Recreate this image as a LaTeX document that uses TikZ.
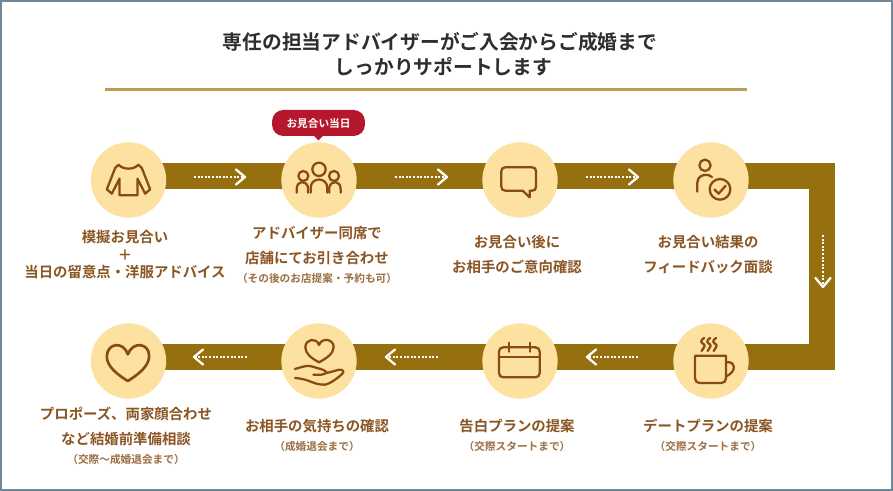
\documentclass[tikz,border=0pt]{standalone}
\usepackage{fontspec}
\usetikzlibrary{calc}
\newfontfamily\jp{Noto Sans CJK JP}[BoldFont={Noto Sans CJK JP Bold}]
\definecolor{bandc}{HTML}{96700F}
\definecolor{bandedge}{HTML}{C6AB66}
\definecolor{circc}{HTML}{FCE1A0}
\definecolor{iconc}{HTML}{8A4A14}
\definecolor{textc}{HTML}{8A5522}
\definecolor{badgec}{HTML}{B5182D}
\definecolor{framec}{HTML}{6F8796}
\definecolor{rulec}{HTML}{BD9C55}
\tikzset{
  stepcirc/.style={circle,fill=circc,minimum size=56.5pt,inner sep=0pt},
  lab/.style={font=\jp\bfseries\fontsize{10.8pt}{12pt}\selectfont,text=textc,inner sep=0pt,text height=8.6pt,text depth=1.2pt,anchor=center},
  sublab/.style={font=\jp\bfseries\fontsize{8pt}{9pt}\selectfont,text=textc!85,inner sep=0pt,text height=6.4pt,text depth=.8pt,anchor=center},
  titlelab/.style={font=\jp\bfseries\fontsize{14.8pt}{16pt}\selectfont,text=black!82,inner sep=0pt,text height=11.8pt,text depth=1.6pt,anchor=center},
  dots/.style={white,line width=1.5pt,dash pattern=on 1.5pt off 1.2pt},
  chev/.style={white,line width=1.7pt,line cap=round,line join=round},
  ic/.style={draw=iconc,line width=1.7pt,line cap=round,line join=round,fill=none},
  icons/.style={x=.25pt,y=-.25pt},
}
\begin{document}
\begin{tikzpicture}[x=.75pt,y=-.75pt]
\useasboundingbox (0,0) rectangle (893,491);
\fill[white] (0,0) rectangle (893,491);
\draw[framec,line width=1.4pt] (1,1) rectangle (892,490);
% title
\node[titlelab] (t1) at (440,43) {専任の担当アドバイザーがご入会からご成婚まで};
\node[titlelab] (t2) at (443.5,68) {しっかりサポートします};
\coordinate (ruleL) at (105,89.5);
\coordinate (ruleR) at (747,89.5);
\draw[rulec,line width=1.7pt] (ruleL) -- (ruleR);
% band
\coordinate (bA) at (128,176);
\coordinate (bB) at (822,176);
\coordinate (bC) at (822,357);
\coordinate (bD) at (128,357);
\draw[bandedge,line width=19.8pt,miter limit=10] (bA) -- (bB) -- (bC) -- (bD);
\draw[bandc,line width=18.8pt,miter limit=10] (bA) -- (bB) -- (bC) -- (bD);
% circles
\node[stepcirc] (c1) at (128.5,180) {};
\node[stepcirc] (c2) at (319,180) {};
\node[stepcirc] (c3) at (520,180) {};
\node[stepcirc] (c4) at (711,180) {};
\node[stepcirc] (c5) at (711,361) {};
\node[stepcirc] (c6) at (520,361) {};
\node[stepcirc] (c7) at (319,361) {};
\node[stepcirc] (c8) at (128.5,361) {};
% dotted arrows
\foreach \nm/\xa/\xb in {a/194/245,b/395/447,c/586/638}{
  \coordinate (\nm s) at (\xa,177);
  \coordinate (\nm e) at (\xb,177);
  \draw[dots] (\nm s) -- (\nm e);
  \draw[chev] ($(\nm e)+(-9,-7.5)$) -- (\nm e) -- ($(\nm e)+(-9,7.5)$);
}
\foreach \nm/\xa/\xb in {d/638/587,e/438/386,f/247/194}{
  \coordinate (\nm s) at (\xa,357);
  \coordinate (\nm e) at (\xb,357);
  \draw[dots] (\nm s) -- (\nm e);
  \draw[chev] ($(\nm e)+(9,-7.5)$) -- (\nm e) -- ($(\nm e)+(9,7.5)$);
}
\coordinate (gs) at (823,235);
\coordinate (ge) at (823,287);
\draw[dots] (gs) -- (ge);
\draw[chev] ($(ge)+(-7.5,-9)$) -- (ge) -- ($(ge)+(7.5,-9)$);
% badge
\node[fill=badgec,rounded corners=8.5pt,minimum width=69.7pt,minimum height=19.5pt,inner sep=0pt,text=white,font=\jp\bfseries\fontsize{8pt}{9pt}\selectfont] (badge) at (318.5,123) {お見合い当日};
\coordinate (tipL) at (313.5,135.5);
\coordinate (tipR) at (323.5,135.5);
\coordinate (tipB) at (318.5,140.5);
\fill[badgec] (tipL) -- (tipB) -- (tipR) -- cycle;
% icon 1 sweater
\begin{scope}[shift={(c1.center)},icons]
\draw[ic] (-30,-46) .. controls (-15,-30) and (15,-30) .. (30,-46) -- (40,-36) -- (65,28) -- (50,41) -- (27,-4) -- (27,46) -- (-27,46) -- (-27,-4) -- (-50,41) -- (-65,28) -- (-40,-36) -- cycle;
\end{scope}
% icon 2 people
\begin{scope}[shift={(c2.center)},icons]
\draw[ic] (0,-32) circle (20);
\draw[ic] (-47,-12) circle (15);
\draw[ic] (45,-12) circle (15);
\draw[ic] (-25,38) -- (-25,24) .. controls (-25,-10) and (25,-10) .. (25,24) -- (25,38);
\draw[ic] (-67,38) -- (-67,28) .. controls (-67,0) and (-38,0) .. (-33,22) -- (-33,38);
\draw[ic] (65,38) -- (65,28) .. controls (65,0) and (36,0) .. (31,22) -- (31,38);
\end{scope}
% icon 3 speech
\begin{scope}[shift={(c3.center)},icons]
\draw[ic] (-44,-38) -- (36,-38) .. controls (44,-38) and (48,-34) .. (48,-26) -- (48,20) .. controls (48,28) and (44,32) .. (36,32) -- (29,32) -- (29,52) -- (8,32) -- (-44,32) .. controls (-52,32) and (-56,28) .. (-56,20) -- (-56,-26) .. controls (-56,-34) and (-52,-38) .. (-44,-38) -- cycle;
\end{scope}
% icon 4 person check
\begin{scope}[shift={(c4.center)},icons]
\draw[ic] (-18,-44) circle (17);
\draw[ic] (-41,35) -- (-41,8) .. controls (-41,-10) and (-25,-18) .. (-8,-15) -- (3,-9);
\draw[ic] (27,28) circle (31);
\draw[ic] (10,28) -- (23,41) -- (44,17);
\end{scope}
% icon 5 mug
\begin{scope}[shift={(c5.center)},icons]
\draw[ic] (-48,-16) -- (45,-16) -- (45,52) .. controls (45,61) and (39,66) .. (31,66) -- (-34,66) .. controls (-42,66) and (-48,61) .. (-48,52) -- cycle;
\draw[ic] (45,4) .. controls (72,-2) and (80,32) .. (45,46);
\foreach \d in {-22,-4,14}{
  \draw[ic] (\d+1,-69) .. controls (\d-12,-60) and (\d-8,-55) .. (\d+1,-50) .. controls (\d+8,-45) and (\d-4,-38) .. (\d-6,-30);
}
\end{scope}
% icon 6 calendar
\begin{scope}[shift={(c6.center)},icons]
\draw[ic] (-50,-41) -- (46,-41) .. controls (54,-41) and (59,-36) .. (59,-28) -- (59,36) .. controls (59,44) and (54,49) .. (46,49) -- (-50,49) .. controls (-58,49) and (-63,44) .. (-63,36) -- (-63,-28) .. controls (-63,-36) and (-58,-41) .. (-50,-41) -- cycle;
\draw[ic] (-63,-12) -- (59,-12);
\draw[ic] (-33,-55) -- (-33,-28);
\draw[ic] (29,-55) -- (29,-28);
\end{scope}
% icon 7 hand heart
\begin{scope}[shift={(c7.center)},icons]
\draw[ic] (0,4) .. controls (-22,-8) and (-42,-22) .. (-41,-42) .. controls (-40,-66) and (-8,-72) .. (0,-48) .. controls (8,-72) and (44,-66) .. (44,-42) .. controls (44,-22) and (22,-8) .. (0,4) -- cycle;
\draw[ic] (-72,24) .. controls (-50,18) and (-35,10) .. (-15,18) .. controls (0,24) and (15,24) .. (23,34) .. controls (18,42) and (0,42) .. (-17,41);
\draw[ic] (23,36) .. controls (35,34) and (55,26) .. (63,26) .. controls (72,26) and (76,32) .. (70,38) .. controls (60,48) and (35,68) .. (18,71) .. controls (0,72) and (-15,66) .. (-30,60) .. controls (-42,55) and (-58,52) .. (-72,51);
\end{scope}
% icon 8 heart
\begin{scope}[shift={(c8.center)},icons]
\draw[ic,line width=2pt] (-2,60) .. controls (-35,40) and (-66,15) .. (-65,-15) .. controls (-63,-55) and (-15,-60) .. (-2,-20) .. controls (12,-60) and (62,-55) .. (62,-15) .. controls (62,15) and (30,40) .. (-2,60) -- cycle;
\end{scope}
% labels
\node[lab] (l1a) at (125,238) {模擬お見合い};
\node[lab] (l1b) at (125,256) {＋};
\node[lab] (l1c) at (125,273) {当日の留意点・洋服アドバイス};
\node[lab] (l2a) at (317,234) {アドバイザー同席で};
\node[lab] (l2b) at (317,259) {店舗にてお引き合わせ};
\node[sublab] (l2c) at (317,279) {（その後のお店提案・予約も可）};
\node[lab] (l3a) at (517,243) {お見合い後に};
\node[lab] (l3b) at (517,268) {お相手のご意向確認};
\node[lab] (l4a) at (708,243) {お見合い結果の};
\node[lab] (l4b) at (708,268) {フィードバック面談};
\node[lab] (l5a) at (708,427) {デートプランの提案};
\node[sublab] (l5b) at (708,447) {（交際スタートまで）};
\node[lab] (l6a) at (517,427) {告白プランの提案};
\node[sublab] (l6b) at (517,447) {（交際スタートまで）};
\node[lab] (l7a) at (317,427) {お相手の気持ちの確認};
\node[sublab] (l7b) at (317,447) {（成婚退会まで）};
\node[lab] (l8a) at (126,415) {プロポーズ、両家顔合わせ};
\node[lab] (l8b) at (126,440) {など結婚前準備相談};
\node[sublab] (l8c) at (126,460) {（交際～成婚退会まで）};
\end{tikzpicture}
\end{document}
